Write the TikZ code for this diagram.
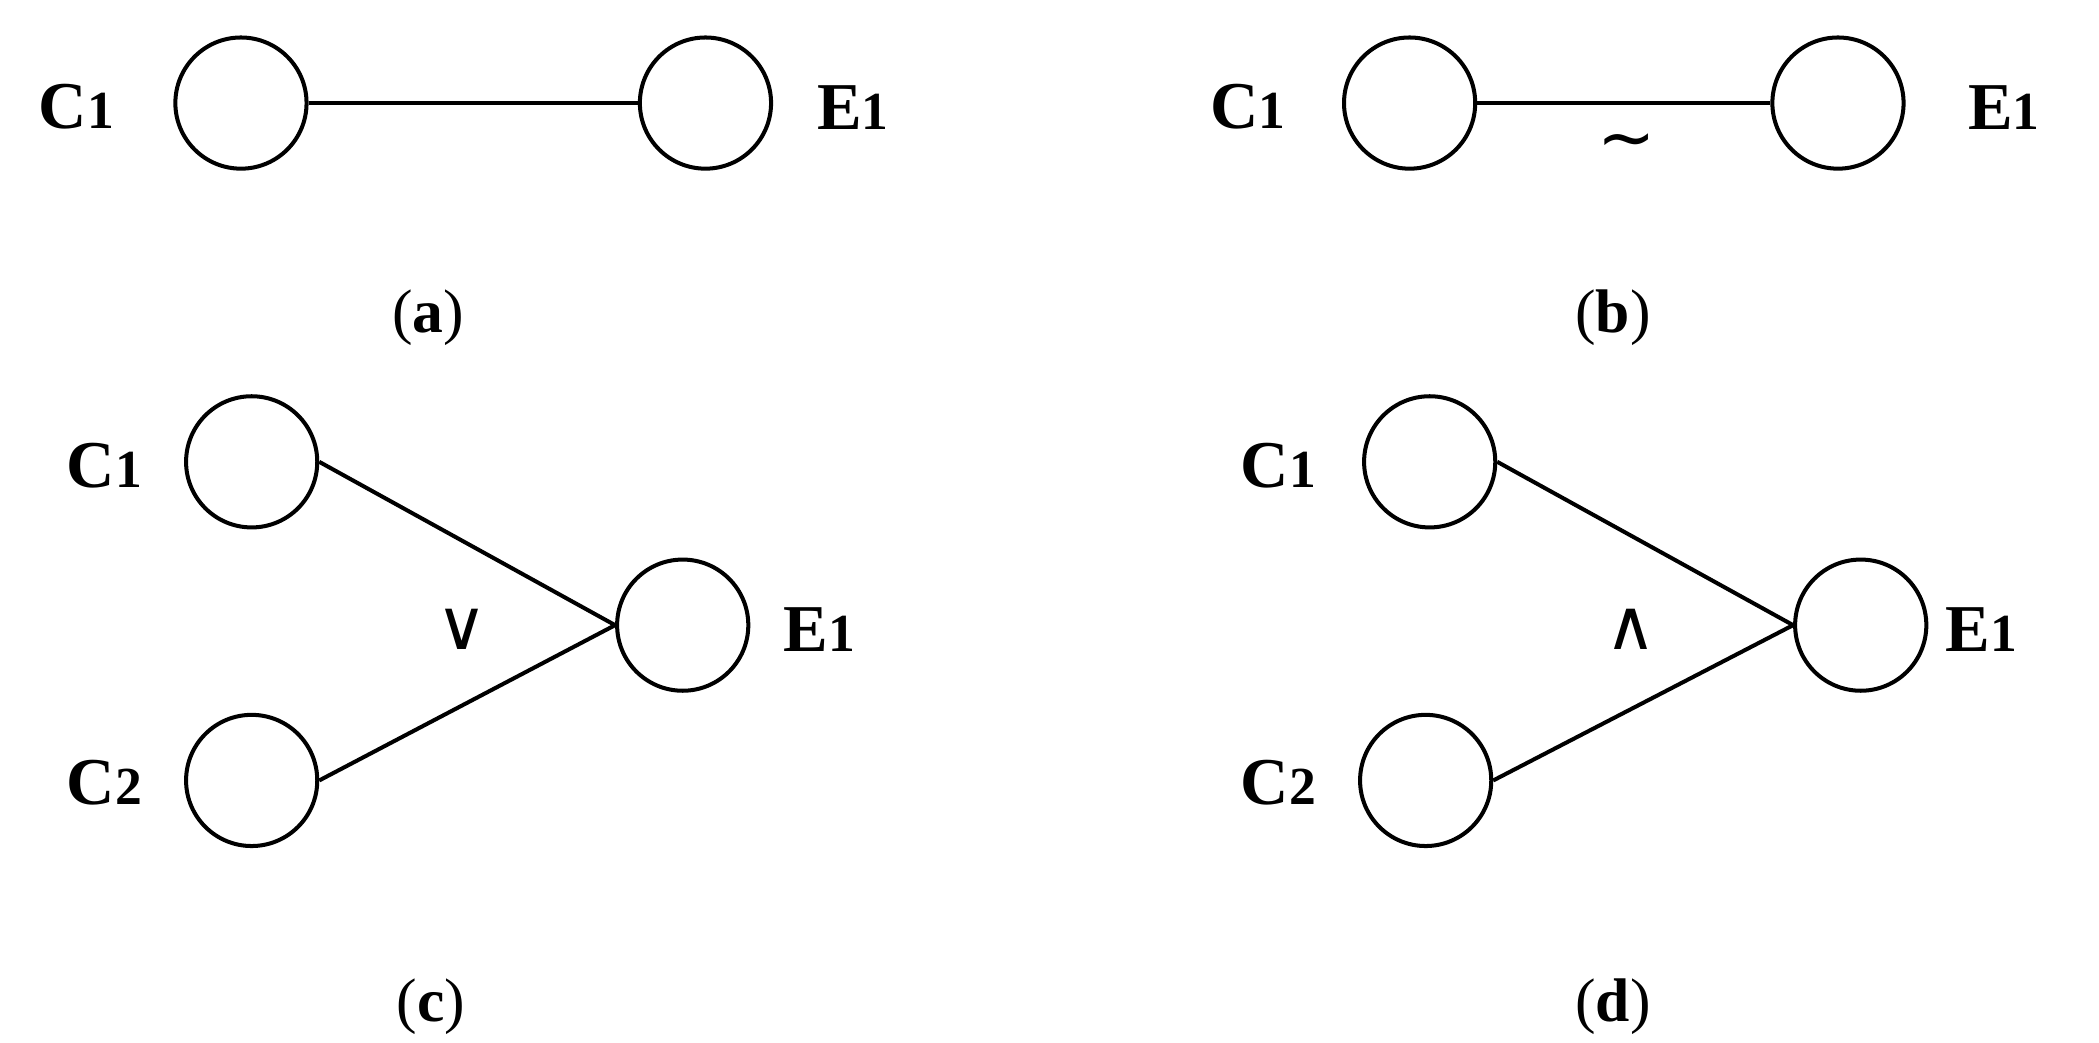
\documentclass[tikz,border=0pt]{standalone}
\usepackage{fontspec}
\setmainfont{Liberation Serif}
\newfontfamily\symf{DejaVu Sans}
\begin{document}
\begin{tikzpicture}[x=1pt,y=-1pt,
  nd/.style={circle,draw,line width=3pt,minimum size=98pt,inner sep=0pt},
  lb/.style={font=\fontsize{50}{56}\selectfont\bfseries},
  captxt/.style={font=\fontsize{46}{52}\selectfont},
  symtxt/.style={font=\fontsize{52}{56}\selectfont\symf},
  ln/.style={line width=3pt}]
\useasboundingbox (0,0) rectangle (1568,779);
% (a)
\node[nd] (a1) at (180,77) {};
\node[nd] (a2) at (527,77) {};
\draw[ln] (a1) -- (a2);
\node[lb] (la1) at (57,80) {C{\fontsize{40}{44}\selectfont 1}};
\node[lb] (la2) at (637,80) {E{\fontsize{40}{44}\selectfont 1}};
\node[captxt] (ca) at (320,237) {(\textbf{a})};
% (b)
\node[nd] (b1) at (1053,77) {};
\node[nd] (b2) at (1373,77) {};
\draw[ln] (b1) -- (b2);
\node[lb] (lb1) at (932,80) {C{\fontsize{40}{44}\selectfont 1}};
\node[lb] (lb2) at (1497,80) {E{\fontsize{40}{44}\selectfont 1}};
\node[symtxt] (tb) at (1215,110) {∼};
\node[captxt] (cb) at (1205,237) {(\textbf{b})};
% (c)
\node[nd] (c1) at (188,345) {};
\node[nd] (c2) at (188,583) {};
\node[nd] (c3) at (510,467) {};
\coordinate (cj) at (c3.west);
\draw[ln] (c1.east) -- (cj);
\draw[ln] (c2.east) -- (cj);
\node[lb] (lc1) at (78,348) {C{\fontsize{40}{44}\selectfont 1}};
\node[lb] (lc2) at (78,585) {C{\fontsize{40}{44}\selectfont 2}};
\node[lb] (lc3) at (612,470) {E{\fontsize{40}{44}\selectfont 1}};
\node[symtxt] (oc) at (345,470) {∨};
\node[captxt] (cc) at (322,752) {(\textbf{c})};
% (d)
\node[nd] (d1) at (1068,345) {};
\node[nd] (d2) at (1065,583) {};
\node[nd] (d3) at (1390,467) {};
\coordinate (dj) at (d3.west);
\draw[ln] (d1.east) -- (dj);
\draw[ln] (d2.east) -- (dj);
\node[lb] (ld1) at (955,348) {C{\fontsize{40}{44}\selectfont 1}};
\node[lb] (ld2) at (955,585) {C{\fontsize{40}{44}\selectfont 2}};
\node[lb] (ld3) at (1480,470) {E{\fontsize{40}{44}\selectfont 1}};
\node[symtxt] (od) at (1218,470) {∧};
\node[captxt] (cd) at (1205,752) {(\textbf{d})};
\end{tikzpicture}
\end{document}
